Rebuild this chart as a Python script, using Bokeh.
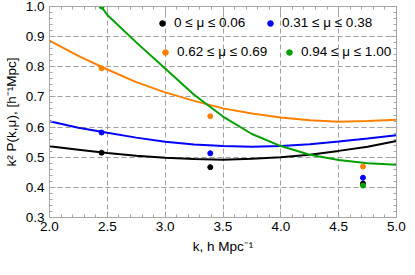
from bokeh.plotting import figure
from bokeh.models import (Range1d, SingleIntervalTicker, LinearAxis,
                          PrintfTickFormatter, CustomJSTickFormatter,
                          Legend, LegendItem)
from bokeh.embed import file_html
from bokeh.resources import INLINE

# ---- data ----
k_curve = [2.0, 2.25, 2.5, 2.75, 3.0, 3.25, 3.5, 3.75, 4.0, 4.25, 4.5, 4.75, 5.0]
black_curve = [0.536, 0.525, 0.514, 0.505, 0.498, 0.494, 0.492, 0.495, 0.500, 0.508, 0.521, 0.535, 0.554]
blue_curve = [0.619, 0.598, 0.581, 0.565, 0.551, 0.542, 0.537, 0.535, 0.537, 0.543, 0.552, 0.562, 0.573]
orange_curve = [0.887, 0.836, 0.791, 0.749, 0.715, 0.687, 0.662, 0.645, 0.632, 0.623, 0.618, 0.620, 0.624]
k_green_curve = [2.446, 2.5, 2.75, 3.0, 3.25, 3.5, 3.75, 4.0, 4.25, 4.5, 4.75, 5.0]
green_curve = [1.0, 0.972, 0.881, 0.794, 0.707, 0.635, 0.577, 0.537, 0.508, 0.491, 0.480, 0.475]

k_pts = [2.45, 3.39, 4.71]
black_pts = [0.515, 0.467, 0.413]
blue_pts = [0.582, 0.513, 0.432]
orange_pts = [0.795, 0.636, 0.469]
k_green_pts = [2.45, 4.71]
green_pts = [1.0, 0.406]

labels = ["0 \u2264 \u03bc \u2264 0.06", "0.31 \u2264 \u03bc \u2264 0.38",
          "0.62 \u2264 \u03bc \u2264 0.69", "0.94 \u2264 \u03bc \u2264 1.00"]
colors = ["#000000", "#0000ff", "#ff8000", "#00a000"]

FONT = "Liberation Sans"
FS = "13.5px"
frame_col = "#a6a6a6"

p = figure(width=407, height=259, output_backend="svg", toolbar_location=None,
           x_range=Range1d(2.0, 5.0), y_range=Range1d(0.3, 1.0),
           min_border_left=44, min_border_right=11, min_border_top=6,
           min_border_bottom=42, background_fill_color="white",
           outline_line_color=None)

def style_axis(ax, labels_on=True):
    ax.axis_line_color = frame_col
    ax.major_tick_line_color = frame_col
    ax.minor_tick_line_color = frame_col
    ax.major_tick_in = 6
    ax.major_tick_out = 0
    ax.minor_tick_in = 3
    ax.minor_tick_out = 0
    if labels_on:
        ax.major_label_text_font = FONT
        ax.major_label_text_font_size = FS
        ax.major_label_text_color = "black"
        ax.axis_label_text_font = FONT
        ax.axis_label_text_font_size = FS
        ax.axis_label_text_font_style = "normal"
        ax.axis_label_text_color = "black"
    else:
        ax.formatter = CustomJSTickFormatter(code="return ''")
        ax.major_label_standoff = 0

xt = SingleIntervalTicker(interval=0.5, num_minor_ticks=5)
yt = SingleIntervalTicker(interval=0.1, num_minor_ticks=5)

p.xaxis.ticker = xt
p.yaxis.ticker = yt
p.xaxis.formatter = PrintfTickFormatter(format="%.1f")
p.yaxis.formatter = PrintfTickFormatter(format="%.1f")
for ax in p.xaxis:
    style_axis(ax)
    ax.major_label_standoff = 4
    ax.axis_label = "k, h Mpc\u207b\u00b9"
    ax.axis_label_standoff = 5
for ax in p.yaxis:
    style_axis(ax)
    ax.major_label_standoff = 5
    ax.axis_label = "k\u00b2 P(k,\u03bc), [h\u207b\u00b9Mpc]"
    ax.axis_label_standoff = 4

rax = LinearAxis(ticker=SingleIntervalTicker(interval=0.1, num_minor_ticks=5))
style_axis(rax, labels_on=False)
p.add_layout(rax, "right")
tax = LinearAxis(ticker=SingleIntervalTicker(interval=0.5, num_minor_ticks=5))
style_axis(tax, labels_on=False)
p.add_layout(tax, "above")

p.xgrid.ticker = xt
p.ygrid.ticker = yt
for g in (p.xgrid, p.ygrid):
    g.grid_line_color = "#a0a0a0"
    g.grid_line_dash = "5 3"
    g.grid_line_width = 1

# curves
p.line(k_curve, black_curve, line_color=colors[0], line_width=2)
p.line(k_curve, blue_curve, line_color=colors[1], line_width=2)
p.line(k_curve, orange_curve, line_color=colors[2], line_width=2)
p.line(k_green_curve, green_curve, line_color=colors[3], line_width=2)

# points
r_black = p.scatter(k_pts, black_pts, size=5, color=colors[0])
r_blue = p.scatter(k_pts, blue_pts, size=5, color=colors[1])
r_orange = p.scatter(k_pts, orange_pts, size=5, color=colors[2])
r_green = p.scatter(k_green_pts, green_pts, size=5, color=colors[3])

def add_leg(r, label, loc):
    leg = Legend(items=[LegendItem(label=label, renderers=[r])], location=loc,
                 padding=0, margin=0, spacing=0, glyph_width=14, glyph_height=14,
                 label_height=14, label_standoff=5, label_text_font=FONT,
                 label_text_font_size=FS, label_text_color="black",
                 border_line_color=None, background_fill_alpha=0)
    p.add_layout(leg, "center")

add_leg(r_black, labels[0], (106, 187))
add_leg(r_blue, labels[1], (214, 187))
add_leg(r_orange, labels[2], (109, 158))
add_leg(r_green, labels[3], (233, 158))

open("out.html", "w").write(file_html(p, INLINE))
